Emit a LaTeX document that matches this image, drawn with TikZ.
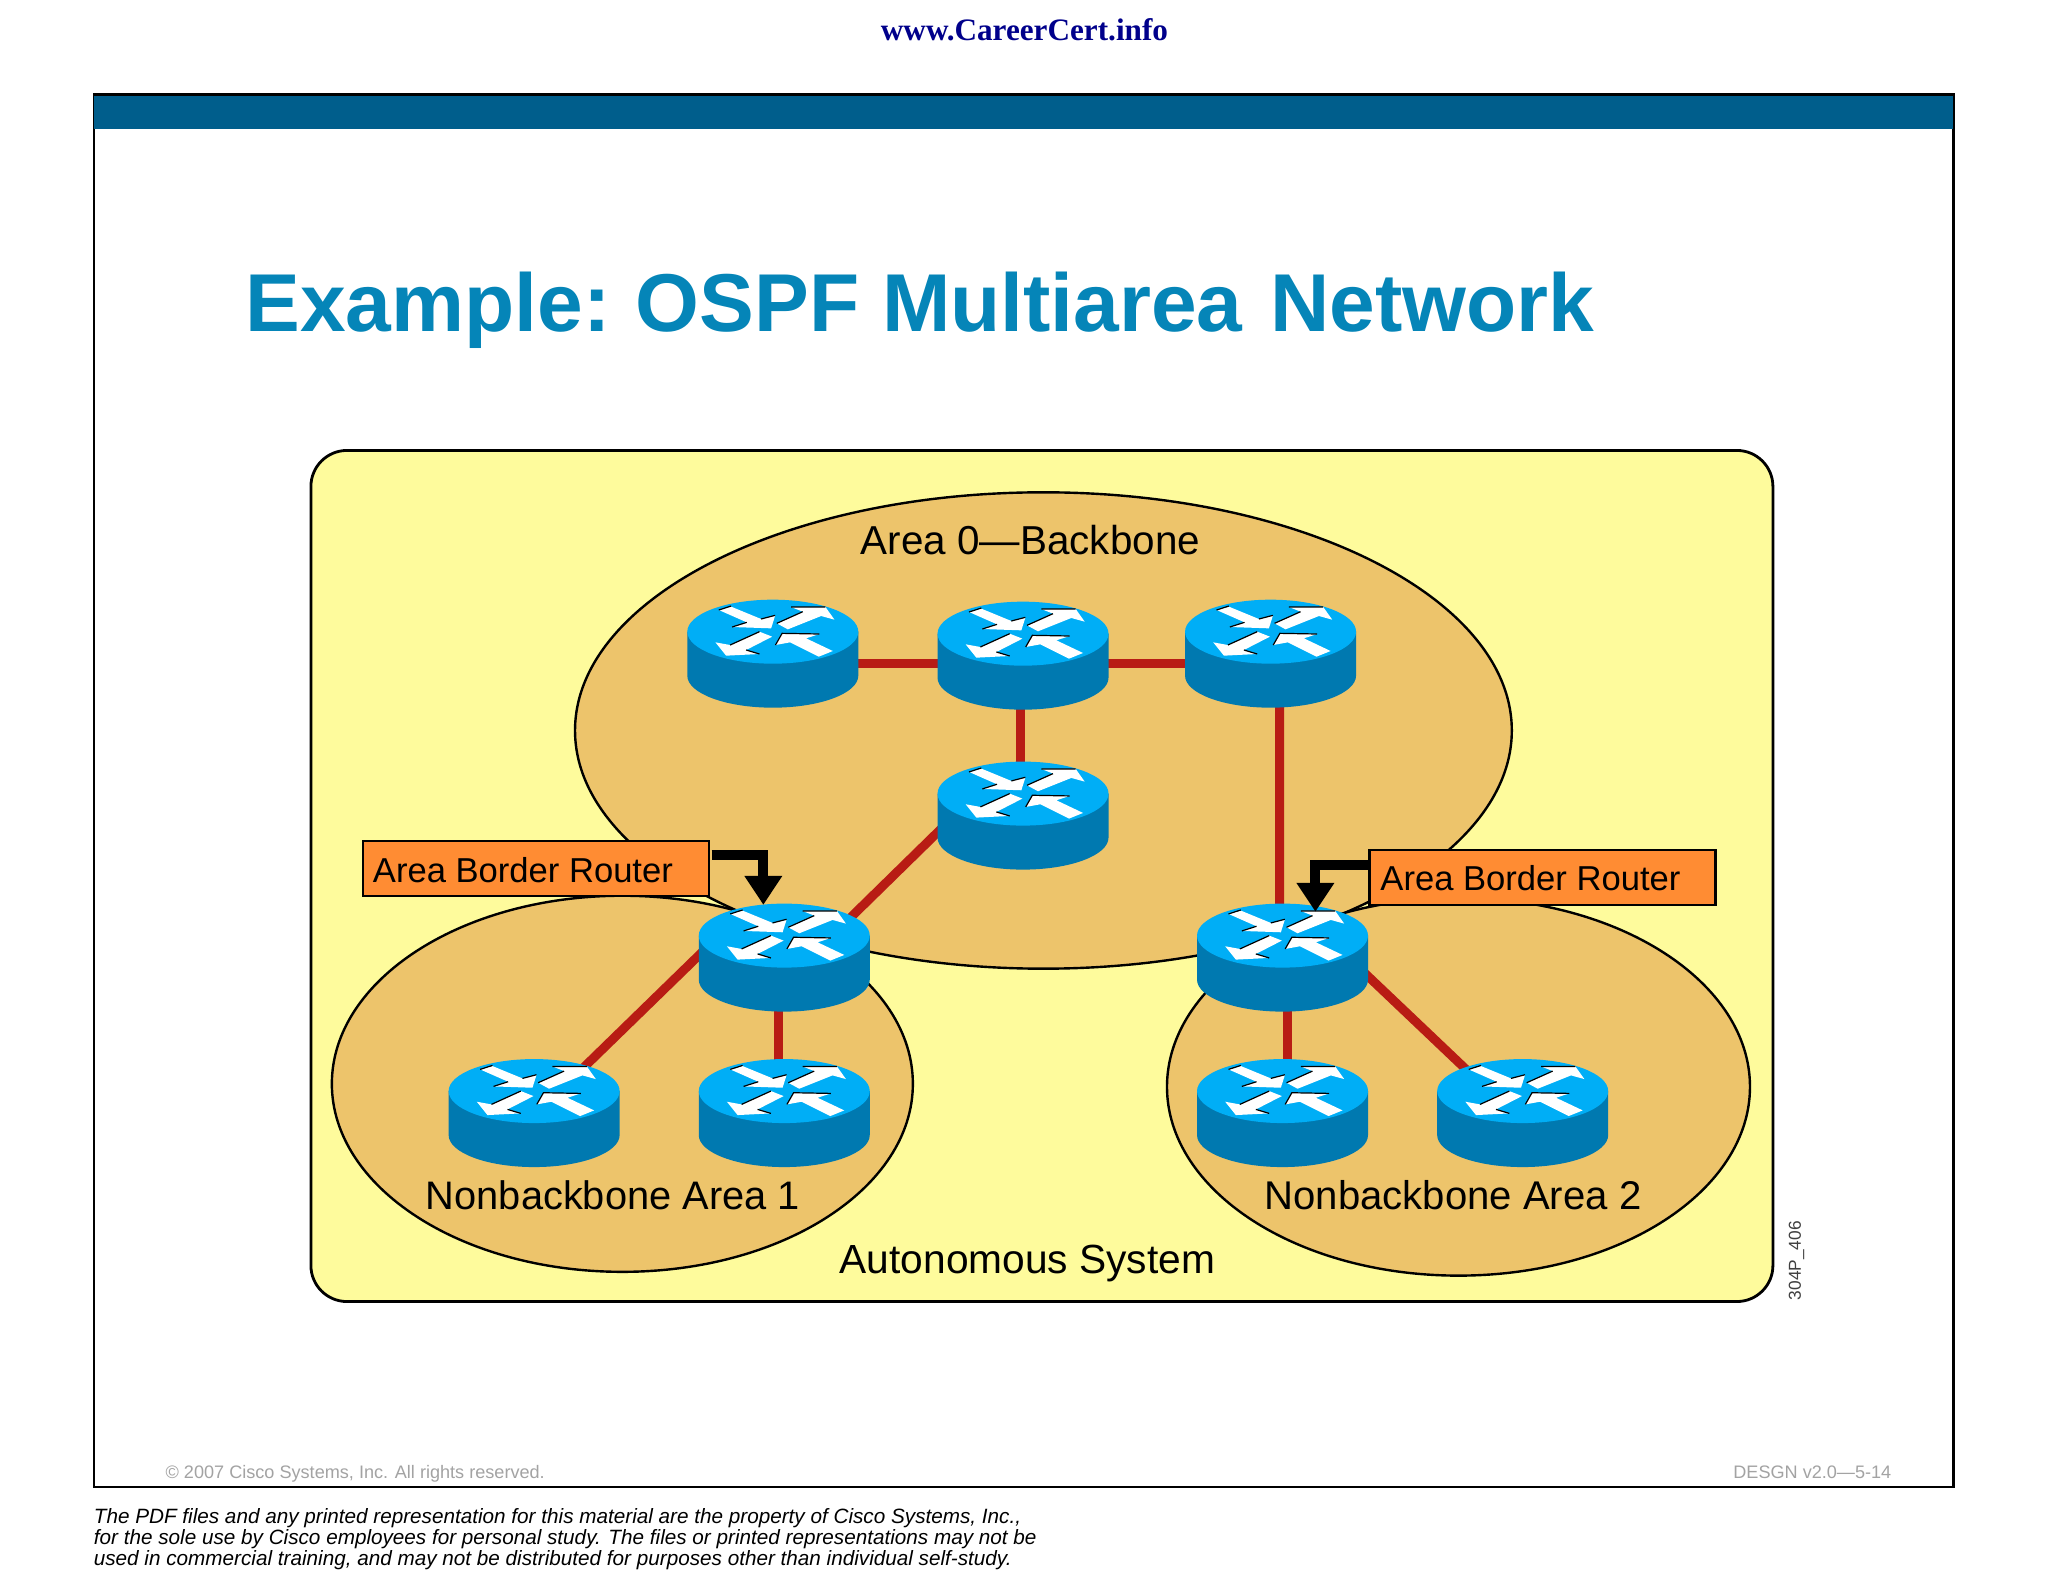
\documentclass[tikz,border=0pt]{standalone}
\usepackage{fontspec}
\setmainfont{Liberation Sans}
\newfontfamily\serifweb{Liberation Serif}
\usetikzlibrary{arrows.meta,calc}
\definecolor{framebar}{HTML}{005E8C}
\definecolor{titleblue}{HTML}{0585B8}
\definecolor{asyellow}{HTML}{FEFB9C}
\definecolor{areaorange}{HTML}{EDC46B}
\definecolor{linkred}{HTML}{B81C14}
\definecolor{rtop}{HTML}{00AEF6}
\definecolor{rbody}{HTML}{0079B0}
\definecolor{abrfill}{HTML}{FF8C33}
\definecolor{webblue}{HTML}{00008B}
\definecolor{footgray}{HTML}{A3A3A3}
\tikzset{
 area/.style={draw=black,line width=2.4pt,fill=areaorange},
 link/.style={draw=linkred,line width=9pt},
 rnode/.style={rectangle,inner sep=0pt,minimum width=171pt,minimum height=108pt},
 abr/.style={rectangle,draw=black,line width=2.6pt,fill=abrfill,inner sep=0pt,minimum width=346pt,minimum height=55pt},
 abrtext/.style={anchor=base west,inner sep=0pt,font=\fontsize{34.6pt}{36pt}\selectfont},
 bigtext/.style={anchor=base,inner sep=0pt,font=\fontsize{#1pt}{42pt}\selectfont},
 callout/.style={draw=black,line width=10pt,line join=miter,-{Triangle[width=36pt,length=29pt]}},
 gray/.style={anchor=base,inner sep=0pt,text=footgray,font=\fontsize{18.1pt}{21pt}\selectfont},
 router/.pic={
  \fill[rbody] (-85.5,-35) -- (85.5,-35) -- (85.5,9) arc[start angle=0,end angle=-180,x radius=85.5pt,y radius=32pt] -- cycle;
  \fill[rtop] (0,-35) ellipse[x radius=85.5pt,y radius=32pt];
  \begin{scope}[xscale=1/3,yscale=1/3,shift={(-340,-255)}]
   \fill[white] (178,85)--(215,75)--(305,112)--(347,102)--(335,140)--(218,136)--(262,122)--cycle;
   \fill[white] (352,125)--(430,90)--(395,76)--(498,76)--(525,114)--(485,103)--(385,143)--cycle;
   \fill[white] (300,150)--(338,165)--(260,205)--(300,217)--(200,222)--(168,182)--(212,190)--cycle;
   \fill[white] (348,190)--(368,155)--(480,157)--(440,170)--(520,208)--(478,225)--(392,182)--cycle;
   \draw[black,line width=1.2pt] (178,85)--(215,73) (305,112)--(347,101) (218,136)--(262,122);
   \draw[black,line width=1.2pt] (352,125)--(430,90) (395,76)--(498,76);
   \draw[black,line width=1.2pt] (212,190)--(300,150) (260,205)--(300,217);
   \draw[black,line width=1.2pt] (348,190)--(368,155)--(480,157);
  \end{scope}
 }
}
\begin{document}
\begin{tikzpicture}[x=1pt,y=-1pt,scale=0.99657]
\useasboundingbox[fill=white] (0,0) rectangle (2055.05,1587.43);
% header
\node[anchor=base,inner sep=0pt,text=webblue,font=\serifweb\bfseries\fontsize{31.2pt}{32pt}\selectfont] (web) at (1028,41) {www.CareerCert.info};
\draw[black,line width=2.6pt] (94.5,95) rectangle (1960,1492);
\fill[framebar] (94.5,95) rectangle (1960,129);
\draw[black,line width=2.6pt] (94.5,95) -- (1960,95);
\node[anchor=base west,inner sep=0pt,text=titleblue,font=\bfseries\fontsize{82.1pt}{90pt}\selectfont] (title) at (246,333) {Example:\kern-5pt{} OSPF Multiarea\kern5pt{} Network};
% areas
\draw[black,line width=2.8pt,fill=asyellow,rounded corners=36pt] (312,452) rectangle (1779,1306);
\draw[area] (1047,733) ellipse[x radius=470pt,y radius=239pt];
\draw[area] (624.5,1087.5) ellipse[x radius=291.5pt,y radius=188.7pt];
\draw[area] (1463.5,1090.5) ellipse[x radius=292.5pt,y radius=189.5pt];
% router positions
\node[rnode] (r1) at (775.5,669) {};
\node[rnode] (r2) at (1026.6,671) {};
\node[rnode] (r3) at (1275,669) {};
\node[rnode] (r4) at (1026.6,831.5) {};
\node[rnode] (r5) at (787,974) {};
\node[rnode] (r6) at (536,1130) {};
\node[rnode] (r7) at (787,1130) {};
\node[rnode] (r8) at (1287,974) {};
\node[rnode] (r9) at (1287,1130) {};
\node[rnode] (r10) at (1528,1130) {};
% links
\draw[link] ([yshift=2.7pt]r1.center) -- ([yshift=2.7pt]r3.center);
\draw[link] ([xshift=-3pt]r2.center) -- ([xshift=-3pt]r4.center);
\draw[link] ([xshift=9pt]r3.center) -- ([xshift=-3pt]r8.center);
\draw[link] ([shift={(-66.6pt,15pt)}]r4.center) -- ([shift={(53pt,40pt)}]r5.center);
\draw[link] ([shift={(-67pt,33.5pt)}]r5.center) -- ([shift={(34pt,43.5pt)}]r6.center);
\draw[link] ([xshift=-6pt]r5.center) -- ([xshift=-6pt]r7.center);
\draw[link] ([xshift=5pt]r8.center) -- ([xshift=5pt]r9.center);
\draw[link] ([shift={(63pt,16pt)}]r8.center) -- ([shift={(-38pt,39pt)}]r10.center);
% routers
\foreach \r in {r1,r2,r3,r4,r5,r6,r7,r8,r9,r10} \pic at (\r.center) {router};
% callouts
\node[abr] (abrl) at (538,871.5) {};
\node[abr] (abrr) at (1548,880.5) {};
\node[abrtext] (abrlt) at (374,886) {Area Border Router};
\node[abrtext] (abrrt) at (1385,894) {Area Border Router};
\coordinate (tl) at (766,908);
\coordinate (tr) at (1320,915);
\draw[callout] (714,858) -| (tl);
\draw[callout] (1373,868) -| (tr);
% labels
\node[bigtext=40.4] (a0) at (1034,556.5) {Area 0—Backbone};
\node[bigtext=39.8] (a1) at (615,1213.5) {Nonbackbone Area 1};
\node[bigtext=40.1] (a2) at (1458,1213.5) {Nonbackbone Area 2};
\node[bigtext=40.7] (as) at (1031,1277.5) {Autonomous System};
\node[anchor=base,rotate=90,inner sep=0pt,text=black!75,font=\fontsize{17.3pt}{20pt}\selectfont] (code) at (1807,1265) {304P\_406};
% footer
\node[gray,anchor=base west] (copy) at (166,1483.5) {© 2007 Cisco Systems, Inc. All rights reserved.};
\node[gray,anchor=base east] (ver) at (1898,1483.5) {DESGN v2.0—5-14};
\node[anchor=north west,inner sep=0pt,align=left,font=\itshape\fontsize{20.7pt}{21pt}\selectfont] (legal) at (94,1513) {The PDF files and any printed representation for this material are the property of Cisco Systems, Inc.,\\for the sole use by Cisco employees for personal study. The files or printed representations may not be\\used in commercial training, and may not be distributed for purposes other than individual self-study.};
\end{tikzpicture}
\end{document}
